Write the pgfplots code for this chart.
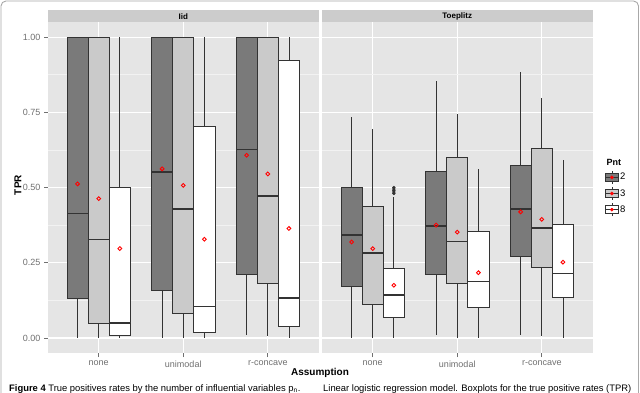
\documentclass[border=0pt]{standalone}
\usepackage{pgfplots}
\pgfplotsset{compat=1.18}
\usepgfplotslibrary{statistics}
\usepackage{fontspec}
\setmainfont{Liberation Sans}
\definecolor{cPanel}{HTML}{E5E5E5}
\definecolor{cMinor}{HTML}{F2F2F2}
\definecolor{cStrip}{HTML}{CCCCCC}
\definecolor{cDark}{HTML}{7A7A7A}
\definecolor{cLight}{HTML}{CACACA}
\definecolor{cLine}{HTML}{333333}
\definecolor{cTick}{HTML}{707070}
\definecolor{cFrame}{HTML}{A8A8A8}
% box: position, lower whisker, lower quartile, median, upper quartile, upper whisker, fill
\newcommand{\bp}[7]{\addplot[forget plot, boxplot prepared={draw position=#1, lower whisker=#2, lower quartile=#3, median=#4, upper quartile=#5, upper whisker=#6}, fill=#7, draw=cLine, line width=0.8pt] coordinates {};}
\pgfplotsset{
  panel/.style={
    scale only axis, width=270.5pt, height=331pt,
    xmin=0.4, xmax=3.6, ymin=-0.05, ymax=1.05,
    axis background/.style={fill=cPanel},
    axis line style={draw=none},
    xtick={1,2,3}, xticklabels={none,unimodal,r-concave},
    ytick={0,0.25,0.5,0.75,1}, yticklabels={0.00,0.25,0.50,0.75,1.00},
    minor ytick={0.125,0.375,0.625,0.875},
    xmajorgrids, ymajorgrids, yminorgrids,
    major grid style={white, line width=1.1pt},
    minor grid style={cMinor, line width=0.5pt},
    tick align=outside, major tick length=4pt, minor tick length=0pt,
    tick style={cTick, line width=0.7pt},
    xtick pos=bottom, ytick pos=left,
    ticklabel style={font=\fontsize{9}{10}\selectfont, text=cTick},
    /pgf/number format/assume math mode=true,
    boxplot/draw direction=y,
    boxplot/box extend=0.25,
    boxplot/whisker extend=0,
    boxplot/every median/.style={line width=1.5pt},
    clip=false,
  },
  meanstyle/.style={forget plot, only marks, mark=o, mark size=1.9pt, red, line width=0.9pt},
  keyimg/.style={legend image code/.code={
    \draw[cLine, line width=0.6pt] (6.5pt,-6.5pt) -- (6.5pt,6.5pt);
    \filldraw[fill=#1, draw=cLine, line width=0.6pt] (0pt,-4pt) rectangle (13pt,4pt);
    \draw[cLine, line width=1pt] (0pt,0pt) -- (13pt,0pt);
    \fill[red] (6.5pt,0pt) circle (1.6pt);}},
}
\begin{document}
\begin{tikzpicture}[x=1pt,y=1pt]
\useasboundingbox (0,0) rectangle (640,-392);
\clip (0,0) rectangle (640,-392);
\fill[white] (0,0) rectangle (640,-392);
\draw[cFrame, line width=0.9pt, rounded corners=5pt] (1,-1) rectangle (638.5,-420);

% ---------- Iid panel ----------
\begin{axis}[panel, name=left, at={(48pt,-353pt)}, anchor=south west]
\bp{0.75}{0}{0.13}{0.413}{1}{1}{cDark}
\bp{1.00}{0}{0.048}{0.328}{1}{1}{cLight}
\bp{1.25}{0}{0.009}{0.05}{0.5}{1}{white}
\bp{1.75}{0}{0.157}{0.552}{1}{1}{cDark}
\bp{2.00}{0}{0.082}{0.428}{1}{1}{cLight}
\bp{2.25}{0}{0.017}{0.104}{0.702}{1}{white}
\bp{2.75}{0.011}{0.211}{0.627}{1}{1}{cDark}
\bp{3.00}{0.005}{0.182}{0.472}{1}{1}{cLight}
\bp{3.25}{0}{0.038}{0.132}{0.922}{1}{white}
\addplot[meanstyle] coordinates {(0.75,0.512) (1.00,0.463) (1.25,0.297)
  (1.75,0.562) (2.00,0.507) (2.25,0.328)
  (2.75,0.607) (3.00,0.545) (3.25,0.364)};
\end{axis}

% ---------- Toeplitz panel ----------
\begin{axis}[panel, name=right, at={(322pt,-353pt)}, anchor=south west,
  yticklabels={}, ytick style={draw=none},
  legend style={at={(1.045,0.552)}, anchor=north west, draw=none, fill=none,
    inner sep=0pt, row sep=2.6pt, font=\fontsize{9.5}{10}\selectfont,
    nodes={inner sep=1.2pt}},
  legend cell align=left]
\bp{0.75}{0}{0.17}{0.342}{0.502}{0.733}{cDark}
\bp{1.00}{0}{0.113}{0.282}{0.437}{0.695}{cLight}
\bp{1.25}{0}{0.069}{0.143}{0.232}{0.47}{white}
\bp{1.75}{0.011}{0.211}{0.372}{0.552}{0.853}{cDark}
\bp{2.00}{0}{0.18}{0.321}{0.599}{0.743}{cLight}
\bp{2.25}{0}{0.1}{0.187}{0.353}{0.561}{white}
\bp{2.75}{0.011}{0.27}{0.428}{0.572}{0.883}{cDark}
\bp{3.00}{0.005}{0.233}{0.365}{0.629}{0.797}{cLight}
\bp{3.25}{0}{0.135}{0.214}{0.379}{0.592}{white}
\addplot[forget plot, only marks, mark=*, mark size=1.4pt, cLine] coordinates {(1.25,0.480) (1.25,0.485) (1.25,0.490) (1.25,0.495) (1.25,0.500)};
\addplot[meanstyle] coordinates {(0.75,0.319) (1.00,0.297) (1.25,0.175)
  (1.75,0.375) (2.00,0.352) (2.25,0.217)
  (2.75,0.419) (3.00,0.394) (3.25,0.252)};
\addlegendimage{keyimg=cDark}
\addlegendentry{2}
\addlegendimage{keyimg=cLight}
\addlegendentry{3}
\addlegendimage{keyimg=white}
\addlegendentry{8}
\end{axis}

% strips
\fill[cStrip] (48,-10) rectangle (318.5,-22.3);
\fill[cStrip] (322,-10) rectangle (592.5,-22.3);
\node[font=\fontsize{8}{9}\selectfont\bfseries] at (183.25,-16.2) {Iid};
\node[font=\fontsize{8}{9}\selectfont\bfseries] at (457.25,-16.2) {Toeplitz};

% titles
\node[font=\fontsize{10}{11}\selectfont\bfseries] at (320,-373) {Assumption};
\node[font=\fontsize{10}{11}\selectfont\bfseries, rotate=90] at (18,-185) {TPR};
\node[font=\fontsize{9}{10}\selectfont\bfseries, anchor=base west] at (603,-165) {Pnt};

% caption (cut by the page edge, as in the reference)
\node[font=\fontsize{9.4}{10}\selectfont, anchor=base west, inner sep=0pt] at (9,-391.5) {\textbf{Figure 4} True positives rates by the number of influential variables p\textsubscript{n}.};
\node[font=\fontsize{9.4}{10}\selectfont, anchor=base west, inner sep=0pt] at (323,-391.5) {Linear logistic regression model. Boxplots for the true positive rates (TPR)};
\end{tikzpicture}
\end{document}
